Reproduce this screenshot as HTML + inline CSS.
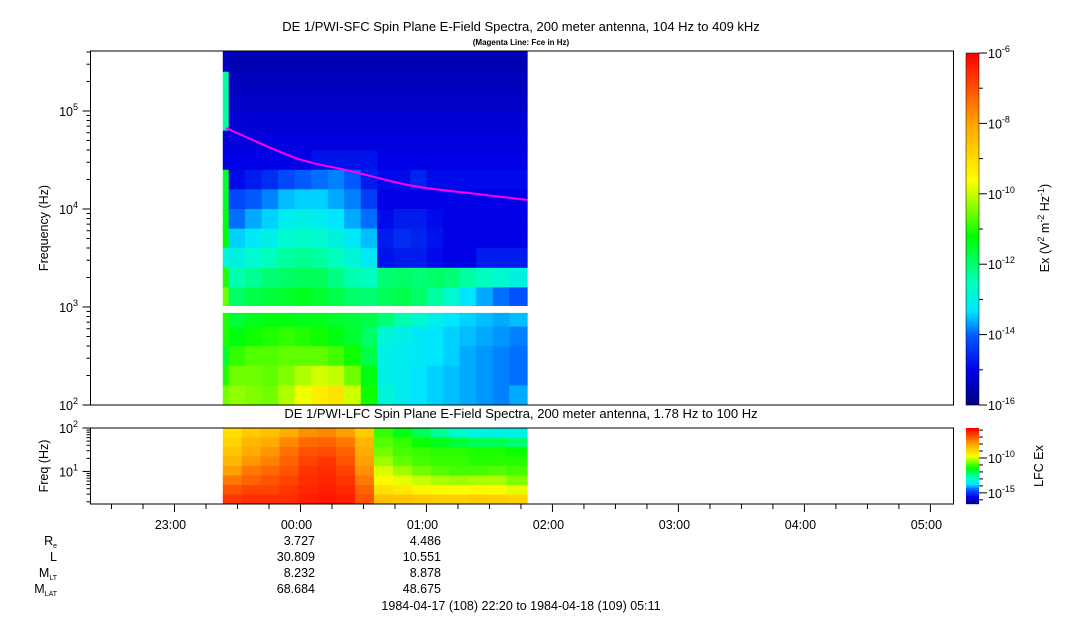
<!DOCTYPE html>
<html><head><meta charset="utf-8"><style>
html,body{margin:0;padding:0;background:#fff;}
svg{display:block;font-family:"Liberation Sans",Arial,sans-serif;}
</style></head><body>
<svg id="chart" width="1083" height="620" viewBox="0 0 1083 620" xmlns="http://www.w3.org/2000/svg">
<rect width="1083" height="620" fill="#fff"/>
<text x="521" y="31" font-size="13" text-anchor="middle">DE 1/PWI-SFC  Spin Plane E-Field Spectra, 200 meter antenna, 104 Hz to 409 kHz</text>
<text x="521" y="45" font-size="8" font-weight="bold" text-anchor="middle">(Magenta Line: Fce in Hz)</text>
<text x="521" y="418" font-size="13" text-anchor="middle">DE 1/PWI-LFC  Spin Plane E-Field Spectra, 200 meter antenna, 1.78 Hz to 100 Hz</text>
<g id="sfc"></g>
<g id="lfc"></g>
<g id="axes"></g>
<text transform="translate(48,228) rotate(-90)" font-size="12.5" text-anchor="middle">Frequency (Hz)</text>
<text transform="translate(48,466) rotate(-90)" font-size="12.5" text-anchor="middle">Freq (Hz)</text>
<text transform="translate(1049,228) rotate(-90)" font-size="12.5" text-anchor="middle">Ex (V<tspan font-size="9" dy="-5">2</tspan><tspan dy="5"> m</tspan><tspan font-size="9" dy="-5">-2</tspan><tspan dy="5"> Hz</tspan><tspan font-size="9" dy="-5">-1</tspan><tspan dy="5">)</tspan></text>
<text transform="translate(1043,466) rotate(-90)" font-size="12.5" text-anchor="middle">LFC Ex</text>
<g font-size="12.5" text-anchor="end">
<text x="57" y="545">R<tspan font-size="7" dy="3">e</tspan></text>
<text x="57" y="561">L</text>
<text x="57" y="577">M<tspan font-size="7" dy="3">LT</tspan></text>
<text x="57" y="593">M<tspan font-size="7" dy="3">LAT</tspan></text>
<text x="315" y="545">3.727</text><text x="441" y="545">4.486</text>
<text x="315" y="561">30.809</text><text x="441" y="561">10.551</text>
<text x="315" y="577">8.232</text><text x="441" y="577">8.878</text>
<text x="315" y="593">68.684</text><text x="441" y="593">48.675</text>
</g>
<text x="521" y="610" font-size="12.5" text-anchor="middle">1984-04-17 (108) 22:20 to 1984-04-18 (109) 05:11</text>
</svg>
<script>
// ---- data ----
const sfcColEdges=[63,65.8,73.6,81.5,89.4,97.2,105.1,113,120.8,128.7,136.5,144.4,152.3,160.1,168,175.8,183.7,191.6,199.4,208];
const sfcRowEdges=[5.61,5.4,5.2,5.0,4.8,4.6,4.4,4.2,4.0,3.8,3.6,3.4,3.2,3.0,2.8,2.6,2.4,2.2,2.0];
const sfcVals=[
[-15.3,-15.5,-15.5,-15.5,-15.5,-15.5,-15.5,-15.5,-15.5,-15.5,-15.5,-15.5,-15.5,-15.5,-15.5,-15.5,-15.5,-15.5,-15.5],
[-12.3,-15.4,-15.4,-15.4,-15.4,-15.4,-15.4,-15.4,-15.4,-15.4,-15.4,-15.4,-15.4,-15.4,-15.4,-15.4,-15.4,-15.4,-15.4],
[-12.3,-15.3,-15.3,-15.3,-15.3,-15.3,-15.3,-15.3,-15.3,-15.3,-15.3,-15.3,-15.3,-15.3,-15.3,-15.3,-15.3,-15.3,-15.3],
[-12.3,-15.2,-15.2,-15.2,-15.2,-15.2,-15.2,-15.2,-15.2,-15.2,-15.2,-15.2,-15.2,-15.2,-15.2,-15.2,-15.2,-15.2,-15.2],
[-15.1,-15.1,-15.1,-15.1,-15.1,-15.1,-15.1,-15.1,-15.1,-15.1,-15.1,-15.1,-15.1,-15.1,-15.1,-15.1,-15.1,-15.1,-15.1],
[-15.0,-15.0,-15.0,-15.0,-15.0,-15.0,-14.8,-14.8,-14.8,-14.8,-15.0,-15.0,-15.0,-15.0,-15.0,-15.0,-15.0,-15.0,-15.0],
[-11.5,-14.9,-14.7,-14.5,-14.2,-14.0,-13.9,-13.8,-14.0,-14.7,-14.9,-14.9,-14.6,-14.9,-14.9,-14.9,-14.9,-14.9,-14.9],
[-11.5,-14.2,-14.0,-13.8,-13.5,-13.4,-13.4,-13.6,-13.8,-14.3,-15.0,-15.0,-15.0,-15.0,-15.0,-15.0,-15.0,-15.0,-15.0],
[-11.3,-13.9,-13.6,-13.4,-13.1,-13.0,-13.1,-13.3,-13.6,-13.9,-14.9,-14.7,-14.7,-14.9,-15.0,-15.0,-15.0,-15.0,-15.0],
[-11.2,-13.4,-13.2,-13.0,-12.7,-12.6,-12.7,-12.9,-13.2,-13.5,-14.7,-14.5,-14.6,-14.8,-15.0,-15.0,-15.0,-15.0,-15.0],
[-12.8,-12.9,-12.7,-12.5,-12.3,-12.2,-12.3,-12.5,-12.8,-13.2,-14.8,-14.7,-14.7,-14.9,-15.0,-15.0,-14.7,-14.7,-14.7],
[-11.0,-12.4,-12.2,-12.0,-11.9,-11.8,-11.8,-12.1,-12.4,-12.5,-12.0,-11.9,-12.0,-11.9,-12.0,-12.3,-12.5,-12.7,-12.9],
[-10.5,-11.9,-11.7,-11.6,-11.5,-11.4,-11.5,-11.7,-11.9,-12.0,-11.8,-11.7,-11.9,-12.3,-12.7,-13.3,-13.6,-13.9,-14.1],
[-11.0,-11.6,-11.4,-11.3,-11.3,-11.4,-11.4,-11.5,-11.6,-11.7,-12.0,-12.4,-12.7,-13.0,-13.3,-13.4,-13.5,-13.6,-13.5],
[-11.0,-11.3,-11.1,-11.0,-10.9,-11.0,-11.1,-11.3,-11.5,-11.9,-12.8,-13.0,-13.2,-13.3,-13.4,-13.5,-13.6,-13.7,-13.8],
[-11.5,-10.9,-10.7,-10.7,-10.6,-10.6,-10.6,-10.8,-11.1,-11.7,-13.0,-13.1,-13.2,-13.3,-13.4,-13.6,-13.7,-13.8,-13.9],
[-11.0,-10.5,-10.5,-10.6,-10.4,-10.1,-9.9,-10.0,-10.5,-11.3,-13.0,-13.1,-13.3,-13.4,-13.5,-13.6,-13.7,-13.8,-13.9],
[-10.5,-10.3,-10.4,-10.5,-10.1,-9.7,-9.3,-9.1,-9.9,-11.1,-12.8,-13.1,-13.3,-13.4,-13.5,-13.6,-13.7,-13.8,-13.6]];
const sfcGap=[2.94,3.01];
const lfcColEdges=[63,72,81,90,99,108,117,126,135,144,153,162,171,180,189,198,208];
const lfcRowEdges=[2.0,1.781,1.562,1.344,1.125,0.906,0.687,0.469,0.25];
const lfcVals=[
[-9.0,-8.6,-8.4,-8.0,-7.6,-7.5,-7.8,-8.6,-11.0,-11.5,-12.0,-12.5,-13.0,-13.2,-13.3,-13.3],
[-8.8,-8.2,-8.0,-7.5,-7.1,-7.0,-7.3,-8.2,-10.8,-11.0,-11.3,-11.6,-11.8,-12.0,-12.0,-12.2],
[-8.5,-8.0,-7.7,-7.2,-6.8,-6.7,-7.0,-8.0,-10.6,-10.9,-11.0,-11.1,-11.1,-11.2,-11.2,-11.3],
[-8.2,-7.7,-7.4,-7.0,-6.6,-6.4,-6.8,-7.8,-10.3,-10.7,-10.9,-11.0,-11.0,-11.1,-11.1,-11.1],
[-7.8,-7.3,-7.1,-6.8,-6.4,-6.3,-6.6,-7.6,-9.9,-10.3,-10.6,-10.8,-10.9,-10.9,-10.8,-10.9],
[-7.3,-7.0,-6.8,-6.6,-6.3,-6.2,-6.4,-7.3,-9.5,-9.8,-10.0,-10.2,-10.3,-10.2,-10.2,-10.5],
[-6.8,-6.6,-6.6,-6.4,-6.2,-6.1,-6.2,-7.0,-9.0,-9.2,-9.4,-9.5,-9.6,-9.5,-9.6,-9.8],
[-6.4,-6.3,-6.3,-6.3,-6.1,-6.0,-6.1,-6.8,-8.4,-8.5,-8.6,-8.7,-8.7,-8.6,-8.7,-8.8]];
const fceTimes=[64.5,98,123.5,153.5,180.7,208];
const fceHz=[67000,33000,24500,17200,14500,12400];
const hourLabels=["23:00","00:00","01:00","02:00","03:00","04:00","05:00"];
const hourMinutes=[40,100,160,220,280,340,400];
const sfcTickExp=[2,3,4,5];
const cbTickExp=[-6,-8,-10,-12,-14,-16];
const lfcCbTickExp=[-10,-15];

// ---- axes functions ----
const NS="http://www.w3.org/2000/svg";
const X0=90.5,X1=953.5,TMAX=411;
const xs=t=>X0+t*(X1-X0)/TMAX;
const sY0=405,sY1=51,sL0=2,sL1=5.612;
const ySfc=l=>sY0-(l-sL0)*(sY0-sY1)/(sL1-sL0);
const lY0=504,lY1=428,lL0=0.25,lL1=2.0;
const yLfc=l=>lY0-(l-lL0)*(lY0-lY1)/(lL1-lL0);
const stops=[[0,[0,0,128]],[0.1,[0,0,230]],[0.2,[0,90,255]],[0.27,[0,230,255]],[0.35,[0,255,190]],[0.48,[0,255,0]],[0.58,[160,255,0]],[0.64,[255,255,0]],[0.8,[255,165,0]],[1,[255,0,0]]];
function cmap(f){f=Math.max(0,Math.min(1,f));for(let i=1;i<stops.length;i++){if(f<=stops[i][0]){const a=stops[i-1],b=stops[i];const u=(f-a[0])/(b[0]-a[0]);const c=a[1].map((v,k)=>Math.round(v+(b[1][k]-v)*u));return `rgb(${c[0]},${c[1]},${c[2]})`;}}return "rgb(255,0,0)";}
const fSfc=v=>(v+16)/10;
const fLfc=v=>(v+16.6)/10.9;
function el(tag,attrs,parent){const e=document.createElementNS(NS,tag);for(const k in attrs)e.setAttribute(k,attrs[k]);parent.appendChild(e);return e;}

const sfc=document.getElementById('sfc');
sfcVals.forEach((row,ri)=>row.forEach((v,ci)=>{
  const x=xs(sfcColEdges[ci]),x2=xs(sfcColEdges[ci+1]);
  const y=ySfc(sfcRowEdges[ri]),y2=ySfc(sfcRowEdges[ri+1]);
  const r=el('rect',{x:x,y:y,width:x2-x+0.4,height:y2-y+0.4,fill:cmap(fSfc(v))},sfc);
  
  
}));
const gap=el('rect',{x:xs(sfcColEdges[0]),y:ySfc(sfcGap[1]),width:xs(sfcColEdges[sfcColEdges.length-1])-xs(sfcColEdges[0])+1,height:ySfc(sfcGap[0])-ySfc(sfcGap[1]),fill:'#fff'},sfc);


// smooth Catmull-Rom path through Fce points
const fp=fceTimes.map((t,i)=>[xs(t),ySfc(Math.log10(fceHz[i]))]);
let d='M'+fp[0][0]+','+fp[0][1];
for(let i=0;i<fp.length-1;i++){const p0=fp[Math.max(0,i-1)],p1=fp[i],p2=fp[i+1],p3=fp[Math.min(fp.length-1,i+2)];
  const c1=[p1[0]+(p2[0]-p0[0])/6,p1[1]+(p2[1]-p0[1])/6],c2=[p2[0]-(p3[0]-p1[0])/6,p2[1]-(p3[1]-p1[1])/6];
  d+=` C${c1[0]},${c1[1]} ${c2[0]},${c2[1]} ${p2[0]},${p2[1]}`;}
const fce=el('path',{d:d,fill:'none',stroke:'#ff00ff','stroke-width':2},sfc);



const lfc=document.getElementById('lfc');
lfcVals.forEach((row,ri)=>row.forEach((v,ci)=>{
  const x=xs(lfcColEdges[ci]),x2=xs(lfcColEdges[ci+1]);
  const y=yLfc(lfcRowEdges[ri]),y2=yLfc(lfcRowEdges[ri+1]);
  const r=el('rect',{x:x,y:y,width:x2-x+0.4,height:y2-y+0.4,fill:cmap(fLfc(v))},lfc);
  
  
}));

const ax=document.getElementById('axes');
const f1=el('rect',{x:X0,y:sY1,width:X1-X0,height:sY0-sY1,fill:'none',stroke:'#000'},ax);


const f2=el('rect',{x:X0,y:lY1,width:X1-X0,height:lY0-lY1,fill:'none',stroke:'#000'},ax);


for(let dd=2;dd<=5;dd++){for(let m=1;m<=9;m++){const l=dd+Math.log10(m);if(l>sL1)break;const y=ySfc(l);
  const tk=el('line',{x1:X0,x2:X0-(m===1?8:4),y1:y,y2:y,stroke:'#000'},ax);
  
  }}
sfcTickExp.forEach(e=>{const t=el('text',{x:78,y:ySfc(e)+5,'font-size':12.5,'text-anchor':'end'},ax);t.innerHTML='10<tspan font-size="9" dy="-6">'+e+'</tspan>';
  
  });
for(let dd=0;dd<=1;dd++){for(let m=1;m<=9;m++){const ll=dd+Math.log10(m);if(ll<lL0)continue;const y=yLfc(ll);
  const tk=el('line',{x1:X0,x2:X0-(m===1?8:4),y1:y,y2:y,stroke:'#000'},ax);
  
  }}
const ly2=el('line',{x1:X0,x2:X0-8,y1:yLfc(2),y2:yLfc(2),stroke:'#000'},ax);


[1,2].forEach(e=>{const t=el('text',{x:78,y:yLfc(e)+5,'font-size':12.5,'text-anchor':'end'},ax);t.innerHTML='10<tspan font-size="9" dy="-6">'+e+'</tspan>';
  
  });
for(let t=10;t<=TMAX;t+=15){const major=(t-40)%60===0;
  const tk=el('line',{x1:xs(t),x2:xs(t),y1:lY0,y2:lY0+(major?8:5),stroke:'#000'},ax);
  
  }
hourLabels.forEach((h,i)=>{const t=el('text',{x:xs(hourMinutes[i])-4,y:529,'font-size':12.5,'text-anchor':'middle'},ax);t.textContent=h;
  
  });
const CBX=966,CBW=13;
for(let y=53;y<405;y+=2){const v=-6-(y-53)/(405-53)*10;const r=el('rect',{x:CBX,y:y,width:CBW,height:2.2,fill:cmap(fSfc(v))},ax);
  
  }
const cb1=el('rect',{x:CBX,y:53,width:CBW,height:352,fill:'none',stroke:'#000','stroke-width':0.5},ax);


for(let e=-6;e>=-16;e--){const y=53+(-6-e)/10*352;const tk=el('line',{x1:CBX+CBW,x2:CBX+CBW+(e%2===0?8:4),y1:y,y2:y,stroke:'#000'},ax);
  
  }
cbTickExp.forEach(e=>{const y=53+(-6-e)/10*352;const t=el('text',{x:988,y:y+5,'font-size':12.5},ax);t.innerHTML='10<tspan font-size="9" dy="-6">'+e+'</tspan>';
  
  });
const lcTop=-5.7,lcBot=-16.6,lcY0=428,lcY1=504;
const ylc=v=>lcY0+(lcTop-v)/(lcTop-lcBot)*(lcY1-lcY0);
for(let y=lcY0;y<lcY1;y+=2){const v=lcTop-(y-lcY0)/(lcY1-lcY0)*(lcTop-lcBot);const r=el('rect',{x:CBX,y:y,width:CBW,height:2.2,fill:cmap(fLfc(v))},ax);
  
  }
for(let e=-6;e>=-16;e--){const tk=el('line',{x1:CBX+CBW,x2:CBX+CBW+(e%5===0?8:4),y1:ylc(e),y2:ylc(e),stroke:'#000'},ax);
  
  }
lfcCbTickExp.forEach(e=>{const t=el('text',{x:988,y:ylc(e)+5,'font-size':12.5},ax);t.innerHTML='10<tspan font-size="9" dy="-6">'+e+'</tspan>';
  
  });
</script>
</body></html>
